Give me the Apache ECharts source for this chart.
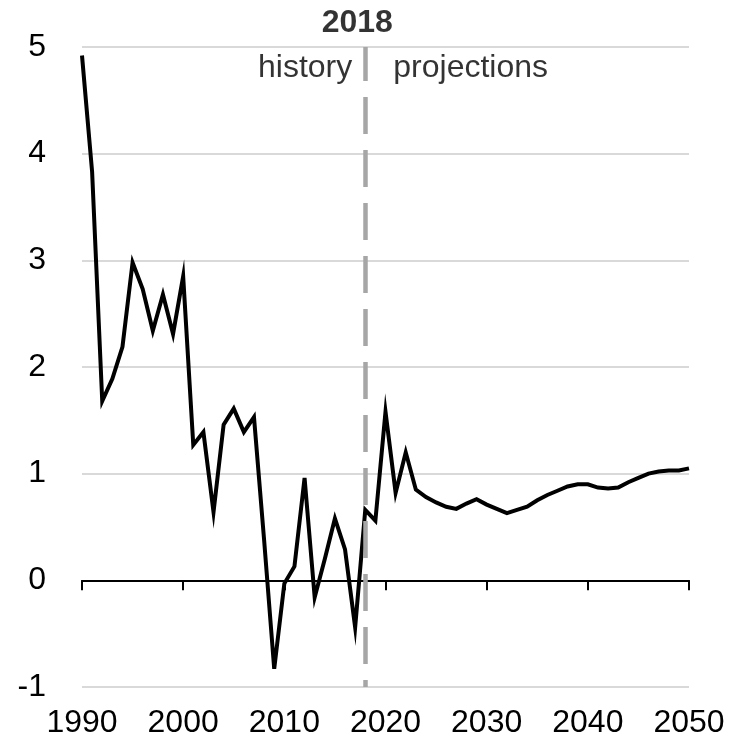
<!DOCTYPE html>
<html><head><meta charset="utf-8">
<script src="https://cdn.jsdelivr.net/npm/echarts@6/dist/echarts.min.js"></script>
<style>html,body{margin:0;padding:0;background:#fff}#c{width:739px;height:751px}</style>
</head><body><div id="c"></div>
<script>
const years = [1990,1991,1992,1993,1994,1995,1996,1997,1998,1999,2000,2001,2002,2003,2004,2005,2006,2007,2008,2009,2010,2011,2012,2013,2014,2015,2016,2017,2018,2019,2020,2021,2022,2023,2024,2025,2026,2027,2028,2029,2030,2031,2032,2033,2034,2035,2036,2037,2038,2039,2040,2041,2042,2043,2044,2045,2046,2047,2048,2049,2050];
const values = [4.92,3.83,1.68,1.89,2.19,2.98,2.73,2.34,2.68,2.31,2.85,1.27,1.39,0.64,1.46,1.61,1.39,1.53,0.38,-0.83,-0.03,0.13,0.96,-0.16,0.20,0.58,0.29,-0.44,0.66,0.56,1.58,0.82,1.20,0.85,0.78,0.73,0.69,0.67,0.72,0.76,0.71,0.67,0.63,0.66,0.69,0.75,0.80,0.84,0.88,0.90,0.90,0.87,0.86,0.87,0.92,0.96,1.00,1.02,1.03,1.03,1.05];
const dividerYear = 2018;
const dividerLabel = '2018';
const leftLabel = 'history';
const rightLabel = 'projections';
const labelLevel = 4.8;
const yTop = 5;

const FONT = '"Liberation Sans", Arial, sans-serif';
const chart = echarts.init(document.getElementById('c'));
chart.setOption({
  animation: false,
  backgroundColor: '#fff',
  grid: {left: 82, right: 50, top: 47, bottom: 64, containLabel: false},
  xAxis: [{
    type: 'value', min: 1990, max: 2050, interval: 10, position: 'bottom',
    axisLine: {show: false, onZero: false}, axisTick: {show: false}, splitLine: {show: false},
    axisLabel: {fontFamily: FONT, fontSize: 32, color: '#000', margin: 20, formatter: v => String(v)}
  }, {
    type: 'value', min: 1990, max: 2050, interval: 10, position: 'bottom',
    axisLine: {show: true, onZero: true, lineStyle: {color: '#000', width: 2}},
    axisTick: {show: true, length: 10, lineStyle: {color: '#000', width: 2}},
    axisLabel: {show: false}, splitLine: {show: false}
  }],
  yAxis: {
    type: 'value', min: -1, max: 5, interval: 1,
    axisLine: {show: false}, axisTick: {show: false},
    splitLine: {lineStyle: {color: '#d9d9d9', width: 2}},
    axisLabel: {fontFamily: FONT, fontSize: 32, color: '#000', margin: 36}
  },
  series: [{
    type: 'line', xAxisIndex: 0, data: [], z: 1,
    markLine: {
      silent: true, symbol: 'none', label: {show: false},
      lineStyle: {color: '#a6a6a6', width: 4.5, type: [37, 16], dashOffset: 30},
      data: [{xAxis: dividerYear}]
    }
  }, {
    type: 'line', xAxisIndex: 0, z: 3,
    data: years.map((y, i) => [y, values[i]]),
    showSymbol: false, symbol: 'none',
    lineStyle: {color: '#000', width: 4, join: 'miter'}
  }, {
    type: 'scatter', xAxisIndex: 0, symbolSize: 0, z: 4, silent: true,
    data: [
      {value: [dividerYear, labelLevel], label: {show: true, formatter: leftLabel, position: 'left', distance: 13, color: '#000'}},
      {value: [dividerYear, labelLevel], label: {show: true, formatter: rightLabel, position: 'right', distance: 28, color: '#000'}},
      {value: [dividerYear, yTop], label: {show: true, formatter: dividerLabel, position: 'top', distance: 8, fontWeight: 'bold', offset: [-8, 0], color: '#000'}}
    ],
    label: {fontFamily: FONT, fontSize: 32, color: '#000'}
  }]
});
</script></body></html>
